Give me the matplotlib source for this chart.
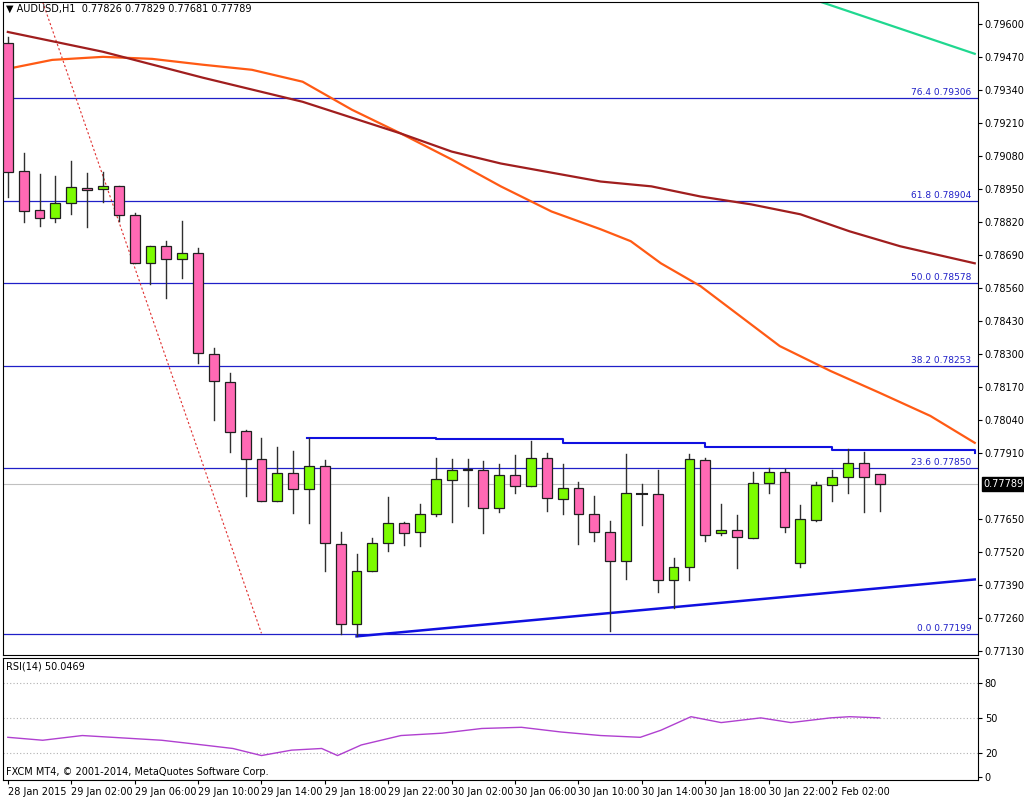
import matplotlib
matplotlib.use("Agg")
import matplotlib.pyplot as plt
from matplotlib.patches import Rectangle
import matplotlib.transforms as mtransforms

opens  = [0.79525,0.79022,0.78865,0.78834,0.78893,0.78952,0.78948,0.78960,0.78846,0.78657,
          0.78724,0.78673,0.78696,0.78300,0.78190,0.77997,0.77887,0.77719,0.77832,0.77770,
          0.77860,0.77550,0.77236,0.77444,0.77554,0.77636,0.77597,0.77671,0.77805,0.77848,
          0.77844,0.77695,0.77825,0.77781,0.77891,0.77730,0.77773,0.77671,0.77597,0.77483,
          0.77750,0.77750,0.77408,0.77463,0.77884,0.77593,0.77605,0.77577,0.77793,0.77836,
          0.77475,0.77648,0.77785,0.77817,0.77872,0.77826]
closes = [0.79018,0.78861,0.78834,0.78893,0.78956,0.78944,0.78963,0.78846,0.78657,0.78724,
          0.78673,0.78696,0.78304,0.78194,0.77993,0.77887,0.77719,0.77832,0.77770,0.77860,
          0.77554,0.77236,0.77444,0.77554,0.77636,0.77593,0.77668,0.77809,0.77844,0.77844,
          0.77695,0.77825,0.77781,0.77891,0.77734,0.77773,0.77671,0.77597,0.77483,0.77754,
          0.77752,0.77408,0.77463,0.77887,0.77589,0.77605,0.77581,0.77793,0.77836,0.77617,
          0.77652,0.77785,0.77817,0.77872,0.77817,0.77789]
highs  = [0.79549,0.79093,0.79007,0.78999,0.79058,0.79011,0.79015,0.78960,0.78857,0.78724,
          0.78743,0.78822,0.78716,0.78323,0.78225,0.78001,0.77970,0.77935,0.77919,0.77970,
          0.77883,0.77597,0.77514,0.77577,0.77738,0.77640,0.77711,0.77891,0.77887,0.77887,
          0.77880,0.77868,0.77903,0.77958,0.77911,0.77868,0.77797,0.77742,0.77644,0.77907,
          0.77789,0.77844,0.77495,0.77907,0.77891,0.77711,0.77664,0.77836,0.77852,0.77848,
          0.77707,0.77797,0.77844,0.77927,0.77915,0.77829]
lows   = [0.78920,0.78818,0.78802,0.78818,0.78853,0.78799,0.78897,0.78822,0.78657,0.78575,
          0.78520,0.78598,0.78264,0.78041,0.77915,0.77742,0.77719,0.77719,0.77675,0.77636,
          0.77444,0.77196,0.77188,0.77444,0.77526,0.77546,0.77542,0.77660,0.77640,0.77703,
          0.77593,0.77679,0.77754,0.77781,0.77683,0.77668,0.77550,0.77562,0.77211,0.77412,
          0.77628,0.77361,0.77298,0.77408,0.77565,0.77589,0.77459,0.77577,0.77754,0.77597,
          0.77463,0.77644,0.77722,0.77754,0.77679,0.77681]

ma_fast_x = [0, 2.8, 6, 9.1, 12.3, 15.4, 18.6, 21.7, 24.8, 28, 31.1, 34.3, 37.4, 39.3, 41.2,
             43.7, 46.2, 48.7, 51.9, 55, 58.2, 61]
ma_fast_y = [0.79423,0.79458,0.79470,0.79462,0.79439,0.79419,0.79372,0.79262,0.79168,0.79066,
             0.78960,0.78861,0.78791,0.78744,0.78657,0.78567,0.78449,0.78331,0.78233,0.78147,
             0.78056,0.77950]
ma_slow_x = [0, 6, 12.3, 18.6, 24.8, 28, 31.1, 37.4, 40.6, 43.7, 46.9, 50, 53.1, 56.3, 61]
ma_slow_y = [0.79568,0.79490,0.79388,0.79293,0.79168,0.79097,0.79050,0.78979,0.78960,0.78920,
             0.78889,0.78850,0.78783,0.78724,0.78657]
ma_green_x = [51.3, 61]
ma_green_y = [0.79686, 0.79482]

fib_levels = [0.79306, 0.78904, 0.78578, 0.78253, 0.77850, 0.77199]
fib_names = ["76.4", "61.8", "50.0", "38.2", "23.6", "0.0"]

upper_x = [18.9, 27, 35, 44, 52, 61]
upper_y = [0.77970, 0.77966, 0.77950, 0.77935, 0.77923, 0.77911]
lower_x = [22, 61]
lower_y = [0.77188, 0.77412]

rsi_x = [0,2.2,4.7,7.2,9.7,12.3,14.2,16,17.9,19.8,20.8,22.3,24.8,27.4,29.9,32.4,34.9,37.4,39.9,41.2,43.1,45,47.5,49.4,51.9,53.1,55]
rsi_y = [33.5,31,35,33,31,27,24,18,22.6,24,18,27,35,37,41,42,38,35,33.5,39.5,51,46,50,46,50,51,50]

tick_pos = [0,4,8,12,16,20,24,28,32,36,40,44,48,52]
tick_labels = ["28 Jan 2015","29 Jan 02:00","29 Jan 06:00","29 Jan 10:00","29 Jan 14:00","29 Jan 18:00",
               "29 Jan 22:00","30 Jan 02:00","30 Jan 06:00","30 Jan 10:00","30 Jan 14:00","30 Jan 18:00",
               "30 Jan 22:00","2 Feb 02:00"]
price_ticks = [0.79600,0.79470,0.79340,0.79210,0.79080,0.78950,0.78820,0.78690,0.78560,0.78430,0.78300,
               0.78170,0.78040,0.77910,0.77650,0.77520,0.77390,0.77260,0.77130]

plt.rcParams['font.family'] = ['DejaVu Sans']
fig = plt.figure(figsize=(10.24, 7.97), dpi=100)
ax = fig.add_axes([0.003, 0.178, 0.952, 0.8195])
ax2 = fig.add_axes([0.003, 0.021, 0.952, 0.153])
XL = (-0.3, 61.2)

ax.set_xlim(*XL)
ax.set_ylim(0.77114, 0.79686)
for lv, nm in zip(fib_levels, fib_names):
    ax.axhline(lv, color='#2020c8', lw=0.9, zorder=1)
    ax.text(60.8, lv + 0.00004, f"{nm} {lv:.5f}", color='#2020c8', fontsize=6.5, ha='right', va='bottom')
ax.axhline(closes[-1], color='#c0c0c0', lw=0.8, zorder=1)
ax.plot([2.2, 16.0], [0.79686, 0.77200], color='#e03030', ls=(0, (2, 2)), lw=0.8, zorder=2)
ax.plot(ma_fast_x, ma_fast_y, color='#ff5a14', lw=1.6, zorder=2)
ax.plot(ma_slow_x, ma_slow_y, color='#a01e1e', lw=1.6, zorder=2)
ax.plot(ma_green_x, ma_green_y, color='#20d890', lw=1.6, zorder=2)
ax.plot(upper_x, upper_y, color='#1010e0', lw=1.5, drawstyle='steps-post', zorder=2)
ax.plot(lower_x, lower_y, color='#1010e0', lw=1.8, zorder=2)

w = 0.62
for i, (o, c, h, l) in enumerate(zip(opens, closes, highs, lows)):
    ax.plot([i, i], [l, h], color='#303030', lw=1, zorder=3)
    col = '#7cfc00' if c > o else '#ff69b4'
    lo, hi = min(o, c), max(o, c)
    if hi - lo < 0.00003:
        ax.plot([i - w/2, i + w/2], [o, o], color='#202020', lw=1.5, zorder=4)
    else:
        ax.add_patch(Rectangle((i - w/2, lo), w, hi - lo, facecolor=col, edgecolor='#202020', lw=0.9, zorder=4))

ax.yaxis.tick_right()
ax.set_yticks(price_ticks)
ax.set_yticklabels([f"{p:.5f}" for p in price_ticks], fontsize=7)
ax.tick_params(axis='y', length=3, pad=2)
ax.set_xticks([])
ax.text(0.003, 0.997, "\u25bc AUDUSD,H1  0.77826 0.77829 0.77681 0.77789", transform=ax.transAxes,
        fontsize=7, va='top', ha='left')
trans = mtransforms.blended_transform_factory(ax.transAxes, ax.transData)
ax.text(1.006, closes[-1], f"{closes[-1]:.5f}", transform=trans, fontsize=7, va='center', ha='left',
        bbox=dict(facecolor='black', edgecolor='black', pad=1.5), color='white', clip_on=False)

ax2.set_xlim(*XL)
ax2.set_ylim(-3, 100.6)
for lv in (80, 50, 20):
    ax2.axhline(lv, color='#b0b0b0', lw=0.8, ls=(0, (1, 2)))
ax2.plot(rsi_x, rsi_y, color='#b040d0', lw=1)
ax2.yaxis.tick_right()
ax2.set_yticks([80, 50, 20, 0])
ax2.set_yticklabels(["80", "50", "20", "0"], fontsize=7)
ax2.tick_params(axis='y', length=3, pad=2)
ax2.text(0.003, 0.97, "RSI(14) 50.0469", transform=ax2.transAxes, fontsize=7, va='top')
ax2.text(0.003, 0.03, "FXCM MT4, \u00a9 2001-2014, MetaQuotes Software Corp.", transform=ax2.transAxes,
         fontsize=7, va='bottom')
ax2.set_xticks(tick_pos)
ax2.set_xticklabels(tick_labels, fontsize=7, ha='left')
ax2.tick_params(axis='x', length=3, pad=2)

fig.savefig("out.png", dpi=100)
